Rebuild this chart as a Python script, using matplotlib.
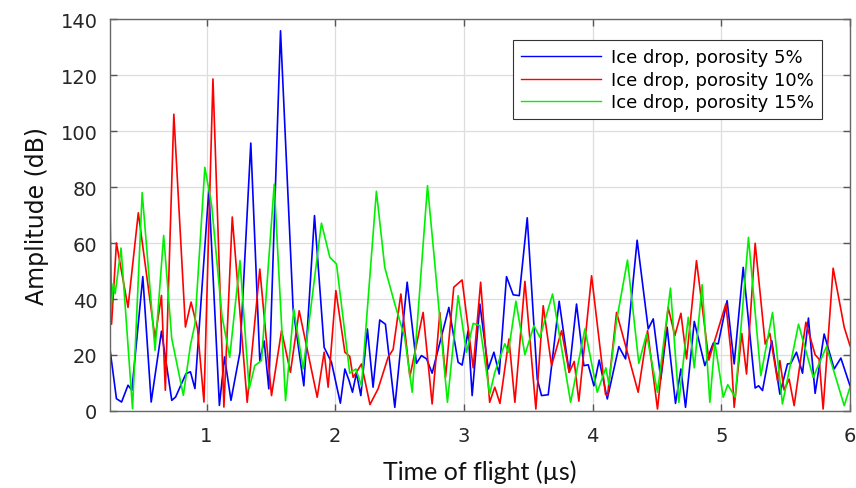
import matplotlib
matplotlib.use('Agg')
import matplotlib.pyplot as plt

plt.rcParams['font.family'] = ['DejaVu Sans']

# values: (time of flight in us, amplitude in dB)
t_5 = [0.25, 0.30, 0.34, 0.39, 0.42, 0.505, 0.57, 0.65, 0.73, 0.76, 0.84, 0.875, 0.91,
       1.018, 1.10, 1.14, 1.19, 1.26, 1.344, 1.414, 1.448, 1.484, 1.575, 1.673, 1.756,
       1.839, 1.914, 1.971, 2.04, 2.075, 2.108, 2.134, 2.165, 2.199, 2.25, 2.294, 2.346,
       2.39, 2.463, 2.559, 2.631, 2.67, 2.71, 2.753, 2.883, 2.955, 2.986, 3.033, 3.064,
       3.124, 3.189, 3.233, 3.274, 3.331, 3.383, 3.43, 3.492, 3.57, 3.603, 3.655, 3.74,
       3.818, 3.875, 3.932, 3.966, 4.01, 4.051, 4.114, 4.204, 4.256, 4.346, 4.432, 4.471,
       4.53, 4.579, 4.644, 4.686, 4.722, 4.79, 4.872, 4.937, 4.976, 5.045, 5.10, 5.17,
       5.263, 5.29, 5.32, 5.392, 5.455, 5.514, 5.54, 5.584, 5.631, 5.677, 5.729, 5.799,
       5.877, 5.929, 6.0]
amp_5 = [22, 4.4, 3.2, 9.2, 7.4, 48, 3.2, 28.5, 3.8, 5, 13.3, 14, 8,
         79, 2, 19.3, 3.8, 21, 95.7, 18, 25, 7.9, 135.8, 36.4, 9,
         69.8, 22.7, 17.4, 2.8, 15, 10.8, 6.7, 13.6, 5.5, 29.3, 8.5, 32.5,
         31, 1.3, 46, 17, 19.8, 18.6, 13.5, 37, 17.4, 16.4, 28.7, 5.5,
         38.2, 15, 21, 13.2, 48, 41.5, 41.2, 69, 11.4, 5.5, 5.8, 39.2,
         13.8, 38.2, 16.2, 16.5, 9, 18.2, 4.3, 23, 18.6, 61, 29.3, 32.9,
         11.4, 29.9, 2.7, 15, 1.3, 32, 16.2, 24.2, 24, 39.4, 16.8, 51.3,
         8.2, 9, 7.3, 25.1, 6, 16.8, 17, 21, 13.5, 33.2, 6.3, 27.5,
         15, 18.9, 9]

t_10 = [0.25, 0.262, 0.30, 0.39, 0.47, 0.60, 0.65, 0.68, 0.746, 0.836, 0.88, 0.93, 0.98,
        1.05, 1.135, 1.20, 1.316, 1.414, 1.505, 1.583, 1.652, 1.72, 1.86, 1.914, 1.945,
        2.005, 2.075, 2.113, 2.139, 2.165, 2.204, 2.27, 2.333, 2.411, 2.45, 2.51, 2.58,
        2.683, 2.753, 2.813, 2.857, 2.921, 2.986, 3.072, 3.13, 3.2, 3.24, 3.28, 3.35,
        3.396, 3.474, 3.559, 3.616, 3.681, 3.759, 3.818, 3.857, 3.893, 3.992, 4.10, 4.116,
        4.186, 4.354, 4.427, 4.504, 4.587, 4.639, 4.686, 4.73, 4.807, 4.903, 5.035, 5.074,
        5.10, 5.159, 5.196, 5.263, 5.341, 5.377, 5.437, 5.455, 5.488, 5.527, 5.566, 5.657,
        5.729, 5.76, 5.791, 5.869, 5.955, 6.0]
amp_10 = [74, 31, 60, 37, 70.8, 26, 41.3, 7.4, 106, 30, 38.9, 29.4, 3.2,
          118.6, 1.4, 69.3, 3.1, 50.7, 5.5, 28.7, 13.8, 35.8, 4.9, 21, 8.5,
          43, 21, 19.5, 12, 13.8, 16.8, 2.3, 7.9, 19.2, 22, 41.8, 12.3,
          35.2, 2.5, 35.2, 12, 44.2, 46.8, 15.4, 46, 3.1, 8.5, 2.7, 25.7,
          3.1, 46.3, 0.7, 37.6, 16.2, 28.7, 13.8, 17.7, 3.5, 48.3, 6, 5.5,
          35.2, 6.7, 28.7, 0.7, 37, 26.9, 34.9, 18.6, 53.7, 18.2, 38.2, 21.5,
          1.3, 27.7, 13.2, 59.9, 23.9, 27.7, 10.8, 18, 7.5, 11.4, 1.9, 31.7,
          20.1, 18.5, 0.7, 51, 29.9, 23.3]

t_15 = [0.25, 0.275, 0.29, 0.336, 0.425, 0.50, 0.60, 0.667, 0.73, 0.82, 0.875, 0.91,
        0.987, 1.04, 1.12, 1.18, 1.26, 1.331, 1.375, 1.427, 1.526, 1.614, 1.678, 1.751,
        1.893, 1.958, 2.01, 2.113, 2.16, 2.204, 2.32, 2.385, 2.463, 2.54, 2.598, 2.717,
        2.774, 2.872, 2.955, 3.02, 3.072, 3.124, 3.2, 3.24, 3.318, 3.345, 3.404, 3.474,
        3.544, 3.59, 3.689, 3.829, 3.94, 4.036, 4.103, 4.126, 4.186, 4.271, 4.359, 4.419,
        4.504, 4.605, 4.67, 4.743, 4.79, 4.851, 4.911, 4.95, 5.015, 5.05, 5.108, 5.211,
        5.307, 5.398, 5.475, 5.6, 5.714, 5.817, 5.955, 6.0]
amp_15 = [32.4, 45.5, 41.9, 58.2, 0.8, 78, 21.7, 62.7, 25.8, 5.6, 23.5, 31,
          87, 73.5, 34, 19.2, 53.7, 7.9, 16.2, 18, 81, 3.7, 36.4, 15,
          67.1, 54.9, 52.5, 13.5, 15, 9, 78.5, 51.3, 38.2, 26.3, 6.7, 80.5,
          52.5, 3.1, 41.2, 21, 31.3, 30.5, 6, 13.8, 24, 21, 39.2, 20.1,
          30.5, 26.3, 41.8, 3.1, 29.3, 6.7, 15.4, 9.6, 32.3, 53.9, 17, 27.5,
          6.7, 43.9, 3.1, 33.5, 15.4, 45.1, 3.1, 24.5, 4.9, 9.4, 4.9, 62,
          12.6, 35.2, 2.5, 31, 12, 23, 1.9, 8.5]

labels = ['Ice drop, porosity 5%', 'Ice drop, porosity 10%', 'Ice drop, porosity 15%']
x_ticks = [1, 2, 3, 4, 5, 6]
y_ticks = [0, 20, 40, 60, 80, 100, 120, 140]

fig = plt.figure(figsize=(8.56, 4.89), dpi=100)
ax = fig.add_axes([0.1285, 0.1575, 0.8645, 0.8015])

ax.plot(t_5, amp_5, color='#0000ff', lw=1.2, solid_joinstyle='round', label=labels[0])
ax.plot(t_10, amp_10, color='#ff0000', lw=1.2, solid_joinstyle='round', label=labels[1])
ax.plot(t_15, amp_15, color='#00f000', lw=1.2, solid_joinstyle='round', label=labels[2])

ax.set_xlim(0.25, 6)
ax.set_ylim(0, 140)
ax.set_xticks(x_ticks)
ax.set_yticks(y_ticks)
ax.grid(True, color='#dddddd', lw=0.9)
ax.set_axisbelow(True)

for s in ax.spines.values():
    s.set_color('#666666')
    s.set_linewidth(1.0)
ax.tick_params(direction='in', length=5, width=1, color='#555555',
               top=True, right=True, labelsize=14, labelcolor='#262626', pad=9)
ax.tick_params(axis='x', pad=11)

ax.set_ylabel('Amplitude (dB)', fontsize=17, color='#111111', labelpad=8)
ax.set_xlabel('Time of flight (µs)', fontsize=18, family='Lato', color='#111111', labelpad=10)

leg = ax.legend(loc='upper right', bbox_to_anchor=(0.962, 0.946), borderaxespad=0,
                handlelength=4.4, labelspacing=0.25, fancybox=False,
                framealpha=1, edgecolor='#333333', borderpad=0.45, handletextpad=0.55,
                prop={'family': 'DejaVu Sans', 'size': 13})
leg.get_frame().set_linewidth(0.8)
for line in leg.get_lines():
    line.set_linewidth(1.0)

fig.savefig('out.png', dpi=100)
